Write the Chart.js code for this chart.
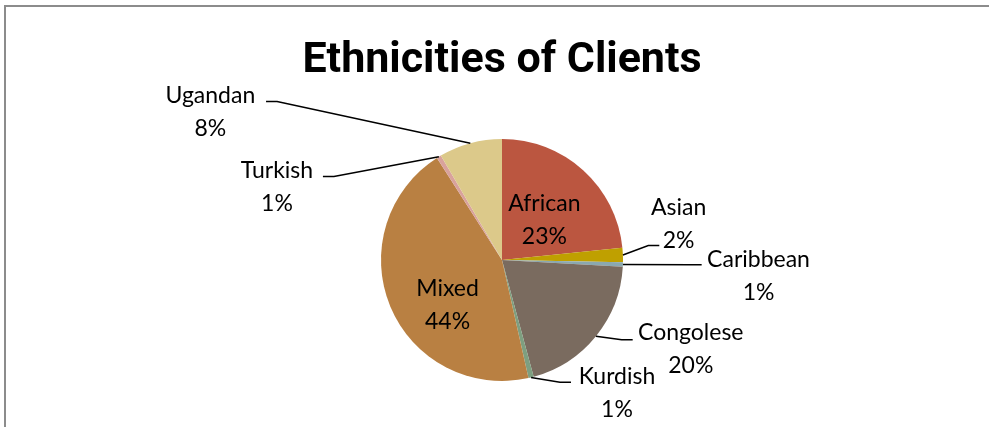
<!DOCTYPE html>
<html>
<head>
<meta charset="utf-8">
<title>Ethnicities of Clients</title>
<script src="https://cdn.jsdelivr.net/npm/chart.js@4/dist/chart.umd.min.js"></script>
<style>
  body { margin: 0; background: #fff; }
  #wrap { position: absolute; left: 0; top: 0; width: 989px; height: 427px; overflow: hidden; }
  #frame { position: absolute; left: 4px; top: 5px; width: 1200px; height: 800px;
           border: 2px solid #8c8c8c; pointer-events: none; }
</style>
</head>
<body>
<div id="wrap">
  <canvas id="pie" width="989" height="427"></canvas>
  <div id="frame"></div>
</div>
<script>
// Données (en %)
const categories = ['African', 'Asian', 'Caribbean', 'Congolese', 'Kurdish', 'Mixed', 'Turkish', 'Ugandan'];
const shares = [23.3, 1.9, 0.6, 19.8, 0.7, 44.3, 0.6, 8.4];
const sliceColors = ['#BB5640', '#BFA000', '#8AA8B0', '#7A6B5F', '#7E9F80', '#B98042', '#D9A29C', '#DCC98A'];

// Placement des étiquettes, en unités de rayon depuis le centre
// text: centre du bloc, end: bout de la ligne de rappel (null = étiquette intérieure)
const labelLayout = [
  { text: [0.35, -0.33], end: null },
  { text: [1.46, -0.30], end: [1.30, -0.12], dir: 1 },
  { text: [2.12, 0.13], end: [1.65, 0.04], dir: 1 },
  { text: [1.56, 0.74], end: [1.08, 0.66], dir: 1 },
  { text: [0.95, 1.10], end: [0.57, 1.01], dir: 1 },
  { text: [-0.45, 0.37], end: null },
  { text: [-1.86, -0.60], end: [-1.48, -0.69], dir: -1 },
  { text: [-2.41, -1.22], end: [-1.95, -1.31], dir: -1 }
];

const labelFont = '23px Lato';
const lineGap = 33;

const pieLabels = {
  id: 'pieLabels',
  afterDatasetsDraw(chart) {
    const ctx = chart.ctx;
    const meta = chart.getDatasetMeta(0);
    const total = shares.reduce((a, b) => a + b, 0);
    ctx.save();
    ctx.font = labelFont;
    ctx.fillStyle = '#000';
    ctx.strokeStyle = '#000';
    ctx.lineWidth = 1.5;
    ctx.textAlign = 'center';
    ctx.textBaseline = 'middle';
    meta.data.forEach((arc, i) => {
      const p = arc.getProps(['x', 'y', 'startAngle', 'endAngle', 'outerRadius'], true);
      const r = p.outerRadius;
      const lay = labelLayout[i];
      if (lay.end) {
        const mid = (p.startAngle + p.endAngle) / 2;
        const sx = p.x + Math.cos(mid) * r;
        const sy = p.y + Math.sin(mid) * r;
        const ex = p.x + lay.end[0] * r;
        const ey = p.y + lay.end[1] * r;
        ctx.beginPath();
        ctx.moveTo(sx, sy);
        ctx.lineTo(ex - lay.dir * 11, ey);
        ctx.lineTo(ex, ey);
        ctx.stroke();
      }
      const tx = p.x + lay.text[0] * r;
      const ty = p.y + lay.text[1] * r;
      const pct = Math.round(shares[i] / total * 100) + '%';
      ctx.fillText(categories[i], tx, ty - lineGap / 2);
      ctx.fillText(pct, tx, ty + lineGap / 2);
    });
    ctx.restore();
  }
};

new Chart(document.getElementById('pie'), {
  type: 'pie',
  data: {
    labels: categories,
    datasets: [{
      data: shares,
      backgroundColor: sliceColors,
      borderWidth: 0
    }]
  },
  options: {
    responsive: false,
    animation: false,
    layout: {
      padding: { top: 35, bottom: 46, left: 23, right: 8 }
    },
    plugins: {
      legend: { display: false },
      tooltip: { enabled: false },
      title: {
        display: true,
        text: 'Ethnicities of Clients',
        color: '#000',
        font: { family: 'Roboto', size: 43, weight: 'bold', lineHeight: 1.2 },
        padding: { top: 0, bottom: 52.4 }
      }
    }
  },
  plugins: [pieLabels]
});
</script>
</body>
</html>
